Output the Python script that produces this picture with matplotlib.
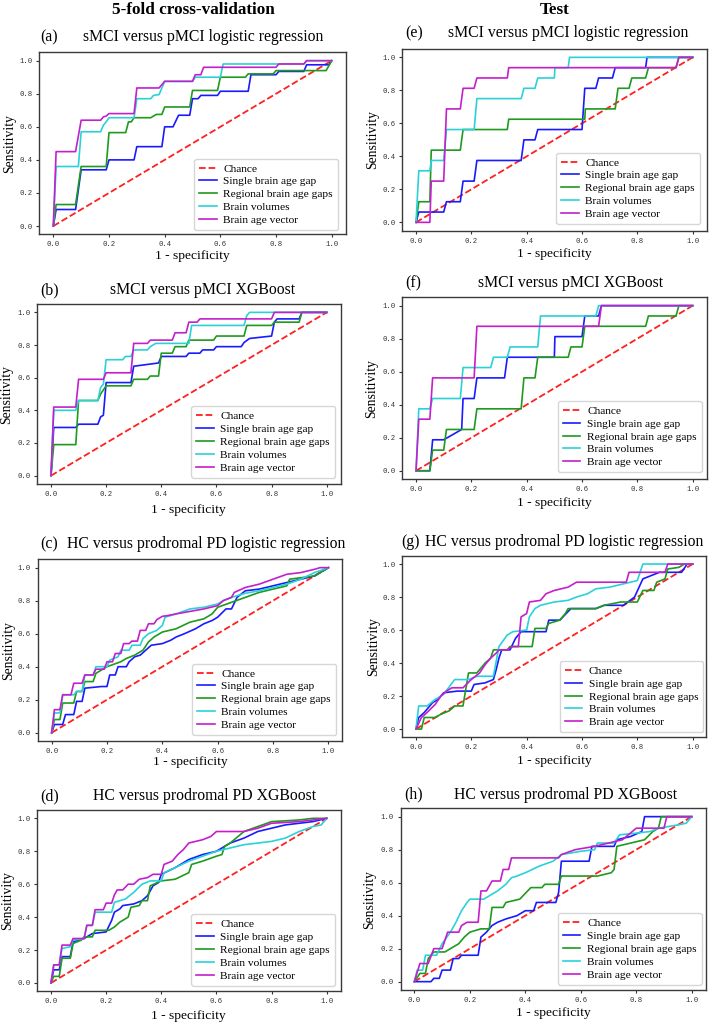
import numpy as np
import matplotlib
matplotlib.use("Agg")
import matplotlib.pyplot as plt

plt.rcParams['font.family'] = ['Liberation Serif', 'DejaVu Serif']

# ---------------- data (ROC vertices: (1 - specificity, sensitivity)) ----------------
series_names = ["Single brain age gap", "Regional brain age gaps", "Brain volumes", "Brain age vector"]
panel_labels = ["(a)", "(b)", "(c)", "(d)", "(e)", "(f)", "(g)", "(h)"]
panel_titles = ["sMCI versus pMCI logistic regression", "sMCI versus pMCI XGBoost",
                "HC versus prodromal PD logistic regression", "HC versus prodromal PD XGBoost",
                "sMCI versus pMCI logistic regression", "sMCI versus pMCI XGBoost",
                "HC versus prodromal PD logistic regression", "HC versus prodromal PD XGBoost"]
column_titles = ["5-fold cross-validation", "Test"]
ticks = [0.0, 0.2, 0.4, 0.6, 0.8, 1.0]
chance = [(0.0, 0.0), (1.0, 1.0)]

# (a)
a_single = [(0,0),(0.01,0.1),(0.08,0.1),(0.1,0.34),(0.19,0.34),(0.2,0.40),(0.29,0.40),(0.3,0.48),(0.39,0.48),
            (0.4,0.60),(0.43,0.60),(0.45,0.67),(0.49,0.67),(0.5,0.77),(0.52,0.77),(0.53,0.79),(0.59,0.79),
            (0.6,0.815),(0.7,0.815),(0.71,0.915),(0.8,0.915),(0.81,0.935),(0.9,0.935),(0.91,0.975),(0.99,0.975),(1,1)]
a_regional = [(0,0),(0.01,0.13),(0.08,0.13),(0.1,0.36),(0.19,0.36),(0.2,0.565),(0.26,0.565),(0.27,0.63),(0.28,0.63),
              (0.29,0.655),(0.35,0.655),(0.37,0.675),(0.39,0.675),(0.4,0.72),(0.49,0.72),(0.5,0.82),(0.59,0.82),
              (0.6,0.9),(0.69,0.9),(0.7,0.92),(0.79,0.92),(0.8,0.94),(0.98,0.94),(1,1)]
a_volumes = [(0,0),(0.01,0.36),(0.09,0.36),(0.1,0.57),(0.17,0.57),(0.18,0.61),(0.19,0.63),(0.2,0.655),(0.29,0.655),
             (0.3,0.77),(0.35,0.77),(0.36,0.79),(0.38,0.795),(0.4,0.875),(0.5,0.875),(0.51,0.9),(0.6,0.9),
             (0.61,0.98),(0.8,0.98),(0.9,0.98),(0.91,1.0),(1,1)]
a_vector = [(0,0),(0.01,0.45),(0.08,0.45),(0.1,0.64),(0.17,0.64),(0.18,0.66),(0.19,0.665),(0.2,0.68),(0.29,0.68),
            (0.3,0.835),(0.38,0.835),(0.4,0.875),(0.5,0.875),(0.51,0.915),(0.53,0.915),(0.54,0.96),(0.8,0.96),
            (0.81,0.98),(0.9,0.98),(0.91,1.0),(1,1)]
# (b)
b_single = [(0,0),(0.01,0.295),(0.09,0.295),(0.1,0.315),(0.17,0.315),(0.18,0.36),(0.19,0.37),(0.2,0.57),(0.29,0.57),
            (0.3,0.67),(0.39,0.69),(0.4,0.73),(0.49,0.73),(0.5,0.75),(0.54,0.75),(0.55,0.77),(0.59,0.77),
            (0.6,0.79),(0.69,0.79),(0.7,0.815),(0.72,0.84),(0.8,0.855),(0.81,0.94),(0.82,0.96),(0.9,0.96),(0.91,1.0),(1,1)]
b_regional = [(0,0),(0.01,0.19),(0.09,0.19),(0.1,0.46),(0.17,0.46),(0.18,0.5),(0.2,0.55),(0.29,0.55),(0.3,0.59),
              (0.35,0.59),(0.36,0.61),(0.39,0.61),(0.4,0.75),(0.44,0.75),(0.45,0.79),(0.49,0.79),(0.5,0.83),
              (0.59,0.83),(0.6,0.855),(0.7,0.855),(0.71,0.92),(0.8,0.92),(0.81,0.94),(0.9,0.94),(0.91,1.0),(1,1)]
b_volumes = [(0,0),(0.01,0.40),(0.09,0.40),(0.1,0.46),(0.17,0.46),(0.18,0.54),(0.19,0.56),(0.2,0.71),(0.26,0.71),
             (0.27,0.73),(0.29,0.73),(0.3,0.77),(0.35,0.77),(0.36,0.79),(0.38,0.81),(0.5,0.81),(0.51,0.92),
             (0.7,0.92),(0.71,0.98),(0.72,1.0),(1,1)]
b_vector = [(0,0),(0.01,0.42),(0.09,0.42),(0.1,0.59),(0.19,0.59),(0.2,0.63),(0.29,0.63),(0.3,0.81),(0.35,0.81),
            (0.36,0.83),(0.44,0.83),(0.45,0.875),(0.49,0.875),(0.5,0.94),(0.53,0.94),(0.54,0.96),(0.8,0.96),
            (0.81,1.0),(1,1)]
# (c)
c_single = [(0,0),(0.01,0.05),(0.04,0.05),(0.05,0.11),(0.08,0.11),(0.09,0.19),(0.11,0.19),(0.12,0.27),(0.18,0.28),
            (0.2,0.28),(0.21,0.35),(0.23,0.35),(0.24,0.4),(0.27,0.4),(0.28,0.43),(0.3,0.46),(0.32,0.47),(0.34,0.5),
            (0.36,0.53),(0.4,0.54),(0.43,0.56),(0.45,0.58),(0.48,0.6),(0.52,0.63),(0.55,0.66),(0.58,0.68),
            (0.6,0.7),(0.63,0.75),(0.65,0.75),(0.67,0.82),(0.7,0.86),(0.75,0.87),(0.8,0.89),(0.85,0.91),
            (0.9,0.93),(0.95,0.95),(1,1)]
c_regional = [(0,0),(0.01,0.08),(0.03,0.08),(0.04,0.18),(0.08,0.18),(0.09,0.25),(0.11,0.25),(0.12,0.31),(0.15,0.31),
              (0.16,0.36),(0.2,0.4),(0.25,0.43),(0.27,0.45),(0.3,0.47),(0.33,0.5),(0.35,0.55),(0.37,0.58),
              (0.4,0.61),(0.45,0.63),(0.5,0.67),(0.55,0.69),(0.58,0.72),(0.6,0.76),(0.65,0.79),(0.7,0.82),
              (0.75,0.85),(0.8,0.87),(0.85,0.89),(0.86,0.93),(0.95,0.95),(1,1)]
c_volumes = [(0,0),(0.01,0.12),(0.03,0.12),(0.04,0.23),(0.08,0.23),(0.09,0.25),(0.11,0.25),(0.12,0.35),(0.15,0.35),
             (0.16,0.40),(0.2,0.40),(0.21,0.44),(0.24,0.46),(0.25,0.5),(0.28,0.5),(0.29,0.53),(0.32,0.53),
             (0.33,0.57),(0.35,0.6),(0.38,0.62),(0.4,0.65),(0.41,0.7),(0.45,0.72),(0.5,0.75),(0.55,0.76),
             (0.6,0.78),(0.62,0.8),(0.65,0.82),(0.7,0.845),(0.75,0.86),(0.8,0.88),(0.85,0.9),(0.9,0.93),
             (0.95,0.97),(1,1)]
c_vector = [(0,0),(0.01,0.14),(0.03,0.14),(0.04,0.23),(0.07,0.23),(0.08,0.30),(0.11,0.30),(0.12,0.35),(0.15,0.35),
            (0.16,0.385),(0.19,0.385),(0.2,0.43),(0.22,0.43),(0.23,0.48),(0.25,0.48),(0.26,0.54),(0.28,0.54),
            (0.29,0.555),(0.31,0.555),(0.32,0.62),(0.34,0.62),(0.35,0.66),(0.37,0.66),(0.38,0.685),(0.4,0.705),
            (0.42,0.71),(0.45,0.72),(0.5,0.735),(0.55,0.75),(0.6,0.77),(0.62,0.8),(0.65,0.82),(0.66,0.85),
            (0.7,0.88),(0.75,0.9),(0.8,0.93),(0.85,0.96),(0.9,0.97),(0.95,0.99),(0.97,1.0),(1,1)]
# (d)
d_single = [(0,0),(0.01,0.08),(0.03,0.08),(0.04,0.16),(0.07,0.16),(0.08,0.25),(0.12,0.27),(0.15,0.3),(0.2,0.31),
            (0.22,0.38),(0.23,0.43),(0.25,0.45),(0.26,0.47),(0.3,0.48),(0.33,0.5),(0.35,0.53),(0.37,0.59),
            (0.39,0.61),(0.4,0.66),(0.45,0.7),(0.5,0.75),(0.55,0.78),(0.6,0.8),(0.65,0.85),(0.7,0.88),
            (0.75,0.92),(0.8,0.94),(0.85,0.96),(0.9,0.97),(0.95,0.98),(1,1)]
d_regional = [(0,0),(0.01,0.04),(0.03,0.04),(0.04,0.15),(0.07,0.15),(0.08,0.24),(0.11,0.26),(0.12,0.28),(0.15,0.28),
              (0.16,0.32),(0.21,0.32),(0.23,0.34),(0.25,0.37),(0.28,0.4),(0.29,0.46),(0.32,0.47),(0.33,0.5),
              (0.35,0.5),(0.36,0.59),(0.4,0.62),(0.45,0.63),(0.5,0.67),(0.51,0.72),(0.55,0.74),(0.6,0.77),
              (0.62,0.78),(0.63,0.83),(0.65,0.85),(0.7,0.92),(0.75,0.95),(0.8,0.98),(0.9,0.99),(0.95,1.0),(1,1)]
d_volumes = [(0,0),(0.01,0.11),(0.03,0.11),(0.04,0.21),(0.07,0.22),(0.08,0.26),(0.12,0.27),(0.13,0.35),(0.15,0.35),
             (0.16,0.43),(0.22,0.43),(0.23,0.49),(0.27,0.51),(0.3,0.55),(0.33,0.6),(0.36,0.62),(0.4,0.62),
             (0.41,0.67),(0.45,0.7),(0.5,0.74),(0.55,0.77),(0.6,0.8),(0.65,0.82),(0.7,0.84),(0.75,0.85),
             (0.8,0.86),(0.85,0.88),(0.9,0.92),(0.95,0.95),(0.98,0.96),(1,1)]
d_vector = [(0,0),(0.01,0.11),(0.03,0.11),(0.04,0.23),(0.07,0.23),(0.08,0.27),(0.12,0.27),(0.13,0.35),(0.15,0.35),
            (0.16,0.445),(0.19,0.445),(0.2,0.485),(0.22,0.485),(0.23,0.535),(0.24,0.565),(0.26,0.565),(0.28,0.6),
            (0.3,0.6),(0.32,0.63),(0.35,0.64),(0.37,0.66),(0.4,0.66),(0.41,0.72),(0.44,0.74),(0.46,0.78),
            (0.48,0.81),(0.5,0.85),(0.55,0.87),(0.58,0.89),(0.6,0.92),(0.7,0.92),(0.75,0.94),(0.8,0.97),
            (0.9,0.98),(0.95,0.99),(1,1)]
# (e)
e_single = [(0,0),(0.01,0.0625),(0.1,0.0625),(0.11,0.125),(0.16,0.125),(0.17,0.25),(0.21,0.25),(0.22,0.375),
            (0.38,0.375),(0.39,0.5),(0.43,0.5),(0.44,0.5625),(0.6,0.5625),(0.61,0.8125),(0.65,0.8125),
            (0.66,0.875),(0.71,0.875),(0.72,0.9375),(0.83,0.9375),(0.835,1.0),(1,1)]
e_regional = [(0,0),(0.01,0.125),(0.05,0.125),(0.055,0.4375),(0.16,0.4375),(0.17,0.5625),(0.33,0.5625),
              (0.335,0.625),(0.61,0.625),(0.612,0.6875),(0.72,0.6875),(0.73,0.8125),(0.77,0.8125),(0.78,0.875),
              (0.83,0.875),(0.84,0.9375),(0.94,0.9375),(0.95,1.0),(1,1)]
e_volumes = [(0,0),(0.01,0.3125),(0.05,0.3125),(0.055,0.375),(0.1,0.375),(0.11,0.5625),(0.21,0.5625),
             (0.22,0.75),(0.38,0.75),(0.39,0.8125),(0.43,0.8125),(0.44,0.875),(0.5,0.875),(0.502,0.9375),
             (0.55,0.9375),(0.555,1.0),(1,1)]
e_vector = [(0,0),(0.05,0),(0.055,0.25),(0.1,0.25),(0.11,0.6875),(0.16,0.6875),(0.17,0.8125),(0.21,0.8125),
            (0.22,0.875),(0.33,0.875),(0.335,0.9375),(0.94,0.9375),(0.95,1.0),(1,1)]
# (f)
f_single = [(0,0),(0.05,0),(0.06,0.1875),(0.1,0.1875),(0.165,0.25),(0.17,0.4375),(0.21,0.4375),(0.22,0.5625),
            (0.32,0.5625),(0.33,0.6875),(0.5,0.6875),(0.502,0.8125),(0.6,0.8125),(0.61,0.9375),(0.66,0.9375),
            (0.67,1.0),(1,1)]
f_regional = [(0,0),(0.05,0),(0.06,0.125),(0.1,0.125),(0.11,0.25),(0.21,0.25),(0.22,0.375),(0.38,0.375),
              (0.39,0.5625),(0.43,0.5625),(0.44,0.6875),(0.55,0.6875),(0.56,0.75),(0.6,0.75),(0.61,0.875),
              (0.83,0.875),(0.84,0.9375),(0.94,0.9375),(0.95,1.0),(1,1)]
f_volumes = [(0,0),(0.01,0.375),(0.05,0.375),(0.06,0.4375),(0.16,0.4375),(0.17,0.625),(0.27,0.625),(0.28,0.6875),
             (0.33,0.6875),(0.34,0.75),(0.44,0.75),(0.45,0.9375),(0.65,0.9375),(0.66,1.0),(1,1)]
f_vector = [(0,0),(0.01,0.3125),(0.05,0.3125),(0.06,0.5625),(0.21,0.5625),(0.22,0.875),(0.66,0.875),(0.67,1.0),(1,1)]
# (g)
g_single = [(0,0),(0.01,0.07),(0.03,0.1),(0.05,0.14),(0.06,0.16),(0.08,0.18),(0.1,0.22),(0.15,0.23),(0.2,0.23),
            (0.21,0.27),(0.25,0.28),(0.28,0.3),(0.29,0.36),(0.3,0.43),(0.31,0.48),(0.34,0.48),(0.36,0.55),
            (0.38,0.59),(0.47,0.59),(0.48,0.66),(0.52,0.66),(0.56,0.73),(0.65,0.73),(0.68,0.75),(0.75,0.75),
            (0.79,0.8),(0.82,0.91),(0.88,0.95),(0.96,0.95),(0.98,1.0),(1,1)]
g_regional = [(0,0),(0.02,0.0),(0.03,0.07),(0.07,0.07),(0.09,0.09),(0.12,0.11),(0.14,0.14),(0.17,0.14),(0.19,0.34),
              (0.22,0.34),(0.25,0.4),(0.27,0.43),(0.28,0.48),(0.33,0.48),(0.34,0.5),(0.42,0.5),(0.43,0.61),
              (0.47,0.61),(0.48,0.64),(0.52,0.66),(0.54,0.7),(0.55,0.73),(0.65,0.73),(0.68,0.75),(0.74,0.77),
              (0.8,0.77),(0.82,0.84),(0.86,0.84),(0.87,0.89),(0.9,0.91),(0.91,0.97),(0.95,0.98),(0.97,1.0),(1,1)]
g_volumes = [(0,0),(0.01,0.14),(0.04,0.14),(0.07,0.18),(0.1,0.21),(0.14,0.3),(0.19,0.3),(0.22,0.32),(0.28,0.32),
             (0.3,0.5),(0.33,0.57),(0.35,0.59),(0.4,0.6),(0.41,0.68),(0.43,0.73),(0.45,0.75),(0.5,0.77),
             (0.55,0.78),(0.58,0.8),(0.62,0.82),(0.65,0.85),(0.7,0.86),(0.75,0.88),(0.8,0.9),(0.82,1.0),(1,1)]
g_vector = [(0,0),(0.02,0.07),(0.04,0.1),(0.07,0.15),(0.09,0.2),(0.11,0.23),(0.13,0.25),(0.17,0.25),(0.2,0.3),
            (0.23,0.34),(0.25,0.39),(0.27,0.43),(0.29,0.46),(0.3,0.48),(0.33,0.48),(0.35,0.5),(0.37,0.5),
            (0.38,0.68),(0.4,0.7),(0.41,0.77),(0.45,0.78),(0.47,0.82),(0.5,0.84),(0.55,0.86),(0.58,0.89),
            (0.76,0.89),(0.77,0.95),(0.9,0.95),(0.91,1.0),(1,1)]
# (h)
h_single = [(0,0),(0.06,0),(0.07,0.02),(0.09,0.02),(0.1,0.07),(0.13,0.07),(0.14,0.14),(0.16,0.14),(0.17,0.16),
            (0.23,0.16),(0.24,0.27),(0.26,0.3),(0.28,0.34),(0.3,0.36),(0.33,0.38),(0.37,0.4),(0.4,0.43),
            (0.43,0.43),(0.44,0.48),(0.51,0.48),(0.52,0.54),(0.53,0.73),(0.63,0.73),(0.64,0.82),(0.72,0.82),
            (0.73,0.86),(0.78,0.88),(0.82,0.91),(0.83,1.0),(1,1)]
h_regional = [(0,0),(0.02,0.05),(0.04,0.05),(0.05,0.14),(0.07,0.18),(0.11,0.18),(0.13,0.2),(0.16,0.23),(0.18,0.27),
              (0.2,0.3),(0.24,0.32),(0.27,0.32),(0.28,0.45),(0.32,0.45),(0.33,0.48),(0.38,0.5),(0.42,0.57),
              (0.46,0.57),(0.47,0.59),(0.52,0.59),(0.53,0.64),(0.66,0.64),(0.71,0.66),(0.72,0.68),(0.73,0.82),
              (0.78,0.84),(0.83,0.86),(0.86,0.91),(0.88,0.93),(0.89,1.0),(1,1)]
h_volumes = [(0,0),(0.01,0.07),(0.03,0.07),(0.04,0.16),(0.08,0.16),(0.1,0.23),(0.13,0.3),(0.15,0.36),(0.17,0.43),
             (0.19,0.48),(0.2,0.5),(0.25,0.5),(0.27,0.52),(0.3,0.55),(0.33,0.59),(0.35,0.63),(0.37,0.64),
             (0.4,0.66),(0.45,0.7),(0.5,0.73),(0.53,0.77),(0.6,0.79),(0.65,0.8),(0.66,0.84),(0.72,0.84),
             (0.74,0.89),(0.8,0.9),(0.85,0.91),(0.88,0.93),(0.95,0.95),(0.98,0.96),(1,1)]
h_vector = [(0,0),(0.02,0.11),(0.05,0.11),(0.07,0.2),(0.1,0.2),(0.12,0.3),(0.16,0.3),(0.17,0.34),(0.19,0.36),
            (0.23,0.36),(0.24,0.55),(0.26,0.55),(0.28,0.61),(0.31,0.61),(0.32,0.68),(0.34,0.68),(0.35,0.75),
            (0.52,0.75),(0.53,0.77),(0.58,0.8),(0.65,0.82),(0.7,0.84),(0.75,0.86),(0.8,0.93),(0.9,0.93),
            (0.91,1.0),(1,1)]

panel_curves = [
    [a_single, a_regional, a_volumes, a_vector],
    [b_single, b_regional, b_volumes, b_vector],
    [c_single, c_regional, c_volumes, c_vector],
    [d_single, d_regional, d_volumes, d_vector],
    [e_single, e_regional, e_volumes, e_vector],
    [f_single, f_regional, f_volumes, f_vector],
    [g_single, g_regional, g_volumes, g_vector],
    [h_single, h_regional, h_volumes, h_vector],
]

# ---------------- styling / layout ----------------
W, H = 709, 1024
colors = ['#1a1aff', '#1e9a1e', '#2ad2d8', '#c41fcc']
# axes boxes in pixels: left, right, top, bottom
boxes = [(39.4, 345.6, 52.4, 234.3), (37.2, 340.5, 304.2, 483.8), (37.8, 342.2, 559.4, 741.0), (37.2, 340.5, 810.1, 991.2),
         (402.2, 706.5, 49.1, 230.6), (402.2, 706.5, 297.4, 479.0), (402.1, 706.5, 555.8, 737.3), (400.5, 705.6, 808.4, 989.9)]
# title positions: label x, title x, center y
title_pos = [(40.7, 83, 37), (40.7, 110, 290), (40, 66.7, 544.3), (40, 92.7, 796.3),
             (405.7, 447.7, 33), (405.7, 477.7, 283.3), (401, 425, 541.7), (404.3, 454.3, 794.7)]
ylabel_x = [10, 6.7, 8.3, 7.3, 373, 371.7, 373.3, 370]
xlabel_y = [256.5, 510, 761.5, 1015.7, 254.5, 503.3, 761, 1013.3]
legend_rb = [(338, 230), (335, 477.7), (336, 735), (335, 985.7),
             (700, 224), (701.7, 472.3), (703.3, 732.3), (701.7, 984.7)]

fig = plt.figure(figsize=(W / 100, H / 100), dpi=100)

for i in range(8):
    l, r, t, b = boxes[i]
    ax = fig.add_axes([l / W, 1 - b / H, (r - l) / W, (b - t) / H])
    cx, cy = np.array(chance).T
    ax.plot(cx, cy, color='#ff2020', ls='--', lw=1.3, label='Chance')
    for j, curve in enumerate(panel_curves[i]):
        x, y = np.array(curve).T
        ax.plot(x, y, color=colors[j], lw=1.2, label=series_names[j])
    ax.set_xticks(ticks)
    ax.set_yticks(ticks)
    ax.set_xticklabels([f"{v:.1f}" for v in ticks], family='Liberation Mono')
    ax.set_yticklabels([f"{v:.1f}" for v in ticks], family='Liberation Mono')
    ax.tick_params(labelsize=5.2, length=2.2, width=0.8, colors='#333333', pad=2.8)
    for s in ax.spines.values():
        s.set_color('#3a3a3a')
        s.set_linewidth(1.0)
    # axis labels
    ax.set_ylabel('Sensitivity', fontsize=9.8, va='center')
    ax.yaxis.set_label_coords((ylabel_x[i] - l) / (r - l), 0.5)
    ax.set_xlabel('1 - specificity', fontsize=9.7, va='center')
    ax.xaxis.set_label_coords(0.5, (b - xlabel_y[i]) / (b - t))
    # legend
    rx, by = legend_rb[i]
    ax.legend(loc='lower right', bbox_to_anchor=(rx / W, 1 - by / H), bbox_transform=fig.transFigure,
              borderaxespad=0, fontsize=8.2, handlelength=1.5, handletextpad=0.6, labelspacing=0.25,
              borderpad=0.45, framealpha=0.8, edgecolor='#cccccc')
    # titles
    lx, tx, ty = title_pos[i]
    fig.text(lx / W, 1 - ty / H, panel_labels[i], fontsize=11.3, ha='left', va='center')
    fig.text(tx / W, 1 - ty / H, panel_titles[i], fontsize=11.3, ha='left', va='center')

fig.text(193.3 / W, 1 - 10 / H, column_titles[0], fontsize=12.3, fontweight='bold', ha='center', va='center')
fig.text(555 / W, 1 - 10.5 / H, column_titles[1], fontsize=12.3, fontweight='bold', ha='center', va='center')

fig.savefig('out.png', dpi=100)
